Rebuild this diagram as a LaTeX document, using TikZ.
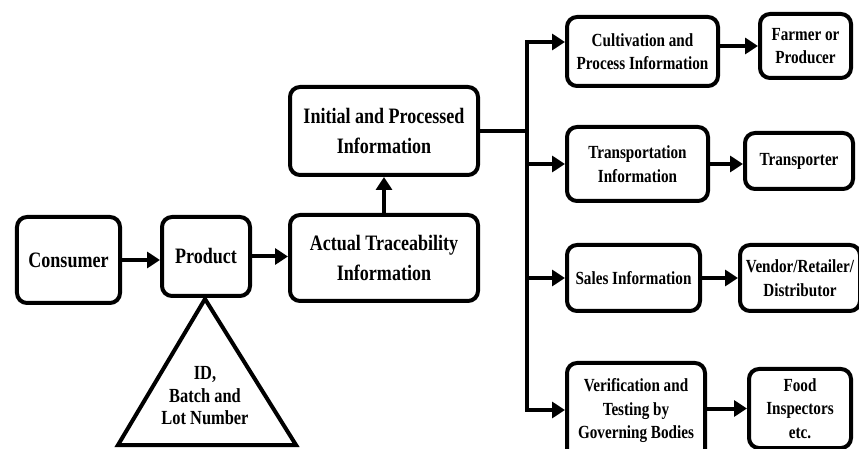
\documentclass[tikz,border=0pt]{standalone}
\usepackage{fontspec}
\setmainfont{Liberation Serif}[FakeStretch=0.82]
\usetikzlibrary{arrows.meta}
\begin{document}
\begin{tikzpicture}[x=1bp,y=-1bp,
  box/.style={draw, line width=4bp, rounded corners=10bp, align=center,
    inner sep=0pt, font=\bfseries},
  bigtxt/.style={font=\fontsize{22bp}{30bp}\selectfont\bfseries},
  smalltxt/.style={font=\fontsize{18.5bp}{23.5bp}\selectfont\bfseries},
  link/.style={line width=4bp},
  arr/.style={line width=4bp, -{Triangle[length=13bp,width=16bp]}}]
\clip (0,0) rectangle (859,449);

% left chain
\node[box,bigtxt,minimum width=103bp,minimum height=86bp] (consumer) at (68.5,260) {Consumer};
\node[box,bigtxt,minimum width=88bp,minimum height=79bp] (product) at (206,256.5) {Product};
\node[box,bigtxt,minimum width=188bp,minimum height=86bp] (actual) at (384,258) {Actual Traceability\\Information};
\node[box,bigtxt,minimum width=188bp,minimum height=88bp] (initial) at (384,131) {Initial and Processed\\Information};

% identification triangle under the product
\draw[line width=4bp, line join=miter] (205,299) -- (296,445) -- (118,445) -- cycle;
\node[align=center, font=\fontsize{20bp}{22.5bp}\selectfont\bfseries] (ids) at (205,396) {ID,\\Batch and\\Lot Number};

% information categories
\node[box,smalltxt,minimum width=151bp,minimum height=69bp] (cultivation) at (642.5,51.5) {Cultivation and\\Process Information};
\node[box,smalltxt,minimum width=141bp,minimum height=74bp] (transport) at (637.5,164) {Transportation\\Information};
\node[box,smalltxt,minimum width=133bp,minimum height=66bp] (sales) at (633.5,278) {Sales Information};
\node[box,smalltxt,minimum width=138bp,minimum height=96bp] (verify) at (636,411) {Verification and\\Testing by\\Governing Bodies};

% responsible parties
\node[box,smalltxt,minimum width=91bp,minimum height=64bp] (farmer) at (805.5,46) {Farmer or\\Producer};
\node[box,smalltxt,minimum width=108bp,minimum height=56bp] (transporter) at (799,161) {Transporter};
\node[box,smalltxt,minimum width=120bp,minimum height=66bp] (vendor) at (800,278) {Vendor/Retailer/\\Distributor};
\node[box,smalltxt,minimum width=102bp,minimum height=79bp] (food) at (800,408.5) {Food\\Inspectors\\etc.};

% connectors
\draw[arr] (consumer.east) -- (consumer.east -| product.west);
\draw[arr] (product.east) -- (product.east -| actual.west);
\draw[arr] (actual.north) -- (initial.south);

\coordinate (bustop) at (527,42);
\coordinate (busbot) at (527,410);
\draw[link] (initial.east) -- (initial.east -| bustop);
\draw[link, line cap=rect] (bustop) -- (busbot);
\draw[arr] (bustop) -- (bustop -| cultivation.west);
\draw[arr] (bustop |- transport) -- (transport.west);
\draw[arr] (bustop |- sales) -- (sales.west);
\draw[arr] (busbot) -- (busbot -| verify.west);

\draw[arr] (cultivation.east |- farmer) -- (farmer.west);
\draw[arr] (transport.east) -- (transport.east -| transporter.west);
\draw[arr] (sales.east) -- (vendor.west);
\draw[arr] (verify.east |- food) -- (food.west);
\end{tikzpicture}
\end{document}
